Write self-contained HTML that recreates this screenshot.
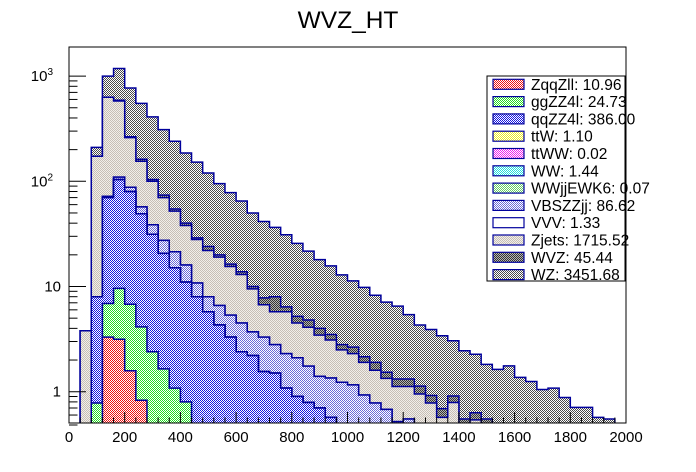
<!DOCTYPE html>
<html>
<head>
<meta charset="utf-8">
<style>
  html, body { margin:0; padding:0; background:#fff; }
  svg { display:block; font-family:"Liberation Sans", Arial, sans-serif; }
</style>
</head>
<body>
<svg id="chart" width="696" height="472" viewBox="0 0 696 472" xmlns="http://www.w3.org/2000/svg">
  <defs>
    <pattern id="p-red" width="2" height="2" patternUnits="userSpaceOnUse"><rect width="2" height="2" fill="#fff"/><rect width="1" height="1" fill="#ee1111"/><rect x="1" y="1" width="1" height="1" fill="#ee1111"/></pattern>
    <pattern id="p-green" width="2" height="2" patternUnits="userSpaceOnUse"><rect width="2" height="2" fill="#fff"/><rect width="1" height="1" fill="#22dd22"/><rect x="1" y="1" width="1" height="1" fill="#22dd22"/></pattern>
    <pattern id="p-blue" width="2" height="2" patternUnits="userSpaceOnUse"><rect width="2" height="2" fill="#fff"/><rect width="1" height="1" fill="#1515e0"/><rect x="1" y="1" width="1" height="1" fill="#1515e0"/></pattern>
    <pattern id="p-yellow" width="2" height="2" patternUnits="userSpaceOnUse"><rect width="2" height="2" fill="#fff"/><rect width="1" height="1" fill="#eeee22"/><rect x="1" y="1" width="1" height="1" fill="#eeee22"/></pattern>
    <pattern id="p-magenta" width="2" height="2" patternUnits="userSpaceOnUse"><rect width="2" height="2" fill="#fff"/><rect width="1" height="1" fill="#ee22ee"/><rect x="1" y="1" width="1" height="1" fill="#ee22ee"/></pattern>
    <pattern id="p-cyan" width="2" height="2" patternUnits="userSpaceOnUse"><rect width="2" height="2" fill="#fff"/><rect width="1" height="1" fill="#22dddd"/><rect x="1" y="1" width="1" height="1" fill="#22dddd"/></pattern>
    <pattern id="p-lgreen" width="2" height="2" patternUnits="userSpaceOnUse"><rect width="2" height="2" fill="#fff"/><rect width="1" height="1" fill="#66cc66"/><rect x="1" y="1" width="1" height="1" fill="#66cc66"/></pattern>
    <pattern id="p-lblue" width="2" height="2" patternUnits="userSpaceOnUse"><rect width="2" height="2" fill="#fff"/><rect width="1" height="1" fill="#6a6ad8"/><rect x="1" y="1" width="1" height="1" fill="#6a6ad8"/></pattern>
    <pattern id="p-white" width="2" height="2" patternUnits="userSpaceOnUse"><rect width="2" height="2" fill="#fff"/></pattern>
    <pattern id="p-zjets" width="2" height="2" patternUnits="userSpaceOnUse"><rect width="2" height="2" fill="#f2efea"/><rect width="1" height="1" fill="#c6beb6"/><rect x="1" y="1" width="1" height="1" fill="#c6beb6"/></pattern>
    <pattern id="p-wvz" width="2" height="2" patternUnits="userSpaceOnUse"><rect width="2" height="2" fill="#b4b4b4"/><rect width="1" height="1" fill="#333"/><rect x="1" y="1" width="1" height="1" fill="#333"/></pattern>
    <pattern id="p-wz" width="2" height="2" patternUnits="userSpaceOnUse"><rect width="2" height="2" fill="#fff"/><rect width="1" height="1" fill="#4a4a4a"/><rect x="1" y="1" width="1" height="1" fill="#4a4a4a"/></pattern>
    <clipPath id="plot-clip"><rect x="69" y="47" width="557" height="376"/></clipPath>
  </defs>

  <text x="348" y="28" font-size="24.5" text-anchor="middle">WVZ_HT</text>

  <g id="bars" clip-path="url(#plot-clip)"></g>
  <g id="axes"></g>

  <rect x="69" y="47" width="557" height="376" fill="none" stroke="#000" stroke-width="1"/>

  <g id="legend">
    <rect x="487" y="76" width="138" height="205" fill="#fff" stroke="#000" stroke-width="1"/>
  </g>
</svg>

<script>
// ---- data ----
const binLow = [40,80,120,160,200,240,280,320,360,400,440,480,520,560,600,640,680,720,760,800,840,880,920,960,1000,1040,1080,1120,1160,1200,1240,1280,1320,1360,1400,1440,1480,1520,1560,1600,1640,1680,1720,1760,1800,1840,1880,1920];
const binWidth = 40;
const seriesNames = ["ZqqZll","ggZZ4l","qqZZ4l","ttW","ttWW","WW","WWjjEWK6","VBSZZjj","VVV","Zjets","WVZ","WZ"];
const seriesTotals = ["10.96","24.73","386.00","1.10","0.02","1.44","0.07","86.62","1.33","1715.52","45.44","3451.68"];
const zqqzll = [0,0,3.3,3.15,1.58,0.83,0,0,0,0,0,0,0,0,0,0,0,0,0,0,0,0,0,0,0,0,0,0,0,0,0,0,0,0,0,0,0,0,0,0,0,0,0,0,0,0,0,0];
const ggzz4l = [0,0.78,3.6,6.45,5.2,3.3,2.4,1.65,1.08,0.8,0,0,0,0,0,0,0,0,0,0,0,0,0,0,0,0,0,0,0,0,0,0,0,0,0,0,0,0,0,0,0,0,0,0,0,0,0,0];
const qqzz4l = [0,7.2,63,94,73,45,29,19,14,10.2,8.0,5.75,4.3,3.3,2.4,2.2,1.55,1.5,1.08,0.9,0.79,0.7,0.57,0.5,0.45,0.3,0.3,0.3,0.3,0.3,0.15,0.1,0.1,0.1,0.1,0.1,0.1,0.1,0.1,0.1,0.1,0.1,0.1,0.1,0.1,0.1,0.1,0.1];
const ttw = [0,0,0,0,0,0,0,0,0,0,0,0,0,0,0,0,0,0,0,0,0,0,0,0,0,0,0,0,0,0,0,0,0,0,0,0,0,0,0,0,0,0,0,0,0,0,0,0];
const ttww = [0,0,0,0,0,0,0,0,0,0,0,0,0,0,0,0,0,0,0,0,0,0,0,0,0,0,0,0,0,0,0,0,0,0,0,0,0,0,0,0,0,0,0,0,0,0,0,0];
const ww = [0,0,0,0,0,0,0,0,0,0,0,0,0,0,0,0,0,0,0,0,0,0,0,0,0,0,0,0,0,0,0,0,0,0,0,0,0,0,0,0,0,0,0,0,0,0,0,0];
const wwjj = [0,0,0,0,0,0,0,0,0,0,0,0,0,0,0,0,0,0,0,0,0,0,0,0,0,0,0,0,0,0,0,0,0,0,0,0,0,0,0,0,0,0,0,0,0,0,0,0];
const vbszzjj = [0,0,2,6,8,8,7.2,6.8,6.3,5,2.8,2.25,2.3,2.05,2.1,1.5,1.75,1.3,1.22,1.2,0.96,0.7,0.78,0.73,0.71,0.63,0.48,0.38,0.22,0.25,0.15,0.1,0.1,0.1,0.1,0.1,0.1,0.1,0.1,0.1,0.1,0.1,0.1,0.1,0.1,0.1,0.1,0.1];
const vvv = [0,0,0,0,0,0,0,0,0,0,0,0,0,0,0,0,0,0,0,0,0,0,0,0,0,0,0,0,0,0,0,0,0,0,0,0,0,0,0,0,0,0,0,0,0,0,0,0];
const zjets = [3.8,165,558,470,172,98,61.5,42.5,30.7,22,17.2,14,12.4,10.15,8.5,5.8,3.4,2.95,3.45,2.4,2.35,2.05,1.75,1.27,1.14,0.97,0.82,0.66,0.6,0.57,0.65,0.58,0.37,0.59,0.25,0.34,0.2,0.1,0.1,0.1,0.1,0.1,0.1,0.1,0.1,0.1,0.1,0.1];
const wvz = [0,0,0,10,5,7,4,4,2.5,2,1,2,1,0.8,0.8,0.5,1.1,2.25,0.65,0.7,0.7,0.55,0.4,0.3,0.35,0.25,0.3,0.19,0.2,0.2,0.18,0.14,0.12,0.12,0.1,0.09,0.15,0.05,0.05,0.05,0.05,0.05,0.05,0.05,0.05,0.05,0.05,0.05];
const wz = [0,37,370,590,505,388,306,236,185.5,146,123,96,75,61.7,51.2,40,33.7,28.5,24.6,20.5,16.9,14,12.2,10.1,8.65,7.65,6.35,5.57,5.18,4.08,3.17,2.98,2.71,2.14,1.9,1.64,1.27,1.28,1.41,1.02,0.9,0.7,0.73,0.53,0.36,0.36,0.22,0.2];
const xTickLabels = ["0","200","400","600","800","1000","1200","1400","1600","1800","2000"];
const xTickValues = [0,200,400,600,800,1000,1200,1400,1600,1800,2000];

// ---- layout ----
const NS = "http://www.w3.org/2000/svg";
const X0 = 69, X1 = 626, Y0 = 423, Y1 = 47;
const xMin = 0, xMax = 2000;
const yMaxLog = 3 + (76 - 47) / 105.2;
function xPix(v) { return X0 + (v - xMin) / (xMax - xMin) * (X1 - X0); }
function yPix(v) {
  if (v <= 0.5) return Y0 + 2;
  return 391.7 - 105.2 * Math.log10(v);
}

const seriesData = [zqqzll, ggzz4l, qqzz4l, ttw, ttww, ww, wwjj, vbszzjj, vvv, zjets, wvz, wz];
const fills = ["p-red","p-green","p-blue","p-yellow","p-magenta","p-cyan","p-lgreen","p-lblue","p-white","p-zjets","p-wvz","p-wz"];
const lineCol = "#00009c";

const cum = [];
let running = binLow.map(() => 0);
for (let s = 0; s < seriesData.length; s++) {
  running = running.map((r, i) => r + seriesData[s][i]);
  cum.push(running.slice());
}

const gBars = document.getElementById("bars");
for (let s = seriesData.length - 1; s >= 0; s--) {
  const c = cum[s];
  if (c.every(v => v <= 0)) continue;
  let d = "M" + xPix(binLow[0]) + "," + (Y0 + 2);
  for (let i = 0; i < binLow.length; i++) {
    const y = yPix(c[i]);
    d += " L" + xPix(binLow[i]).toFixed(2) + "," + y.toFixed(2);
    d += " L" + xPix(binLow[i] + binWidth).toFixed(2) + "," + y.toFixed(2);
  }
  d += " L" + xPix(binLow[binLow.length - 1] + binWidth).toFixed(2) + "," + (Y0 + 2) + " Z";
  const p = document.createElementNS(NS, "path");
  p.setAttribute("d", d);
  p.setAttribute("fill", "url(#" + fills[s] + ")");
  p.setAttribute("stroke", lineCol);
  p.setAttribute("stroke-width", "1.5");
  
  
  gBars.appendChild(p);
}

// ---- axes ----
const gAx = document.getElementById("axes");
function line(x1, y1, x2, y2, name) {
  const l = document.createElementNS(NS, "line");
  l.setAttribute("x1", x1); l.setAttribute("y1", y1);
  l.setAttribute("x2", x2); l.setAttribute("y2", y2);
  l.setAttribute("stroke", "#000"); l.setAttribute("stroke-width", "1");
  
  
  gAx.appendChild(l);
}
for (let v = 0; v <= 2000; v += 40) {
  const major = (v % 200 === 0);
  const x = xPix(v);
  line(x, Y0, x, Y0 - (major ? 11 : 5.5), major ? "x-major-tick" : "x-minor-tick");
}
xTickValues.forEach((v, i) => {
  const t = document.createElementNS(NS, "text");
  t.setAttribute("x", xPix(v));
  t.setAttribute("y", 442);
  t.setAttribute("font-size", "15");
  t.setAttribute("text-anchor", "middle");
  t.textContent = xTickLabels[i];
  
  
  gAx.appendChild(t);
});
for (let e = -1; e <= 3; e++) {
  for (let m = 1; m <= 9; m++) {
    const v = m * Math.pow(10, e);
    if (v < 0.5 || v > Math.pow(10, yMaxLog)) continue;
    const y = yPix(v);
    line(X0, y, X0 + (m === 1 ? 17 : 8.5), y, m === 1 ? "y-major-tick" : "y-minor-tick");
  }
}
function yLabel(y, base, sup) {
  const t = document.createElementNS(NS, "text");
  t.setAttribute("x", 61);
  t.setAttribute("y", y + 5);
  t.setAttribute("font-size", "15");
  t.setAttribute("text-anchor", "end");
  
  
  if (sup) {
    t.setAttribute("x", 53);
    t.textContent = base;
    const s = document.createElementNS(NS, "tspan");
    s.setAttribute("dy", "-6");
    s.setAttribute("font-size", "10");
    s.textContent = sup;
    t.appendChild(s);
  } else {
    t.textContent = base;
  }
  gAx.appendChild(t);
}
yLabel(yPix(1), "1", null);
yLabel(yPix(10), "10", null);
yLabel(yPix(100), "10", "2");
yLabel(yPix(1000), "10", "3");

// ---- legend ----
const gLeg = document.getElementById("legend");
seriesNames.forEach((n, i) => {
  const y = 79.3 + i * 17.3;
  const r = document.createElementNS(NS, "rect");
  r.setAttribute("x", 493); r.setAttribute("y", y);
  r.setAttribute("width", 31); r.setAttribute("height", 10);
  r.setAttribute("fill", "url(#" + fills[i] + ")");
  r.setAttribute("stroke", lineCol); r.setAttribute("stroke-width", "1.2");
  
  
  gLeg.appendChild(r);
  const t = document.createElementNS(NS, "text");
  t.setAttribute("x", 531); t.setAttribute("y", y + 10.5);
  t.setAttribute("font-size", "15.5");
  t.textContent = n + ": " + seriesTotals[i];
  
  
  gLeg.appendChild(t);
});
</script>
</body>
</html>
